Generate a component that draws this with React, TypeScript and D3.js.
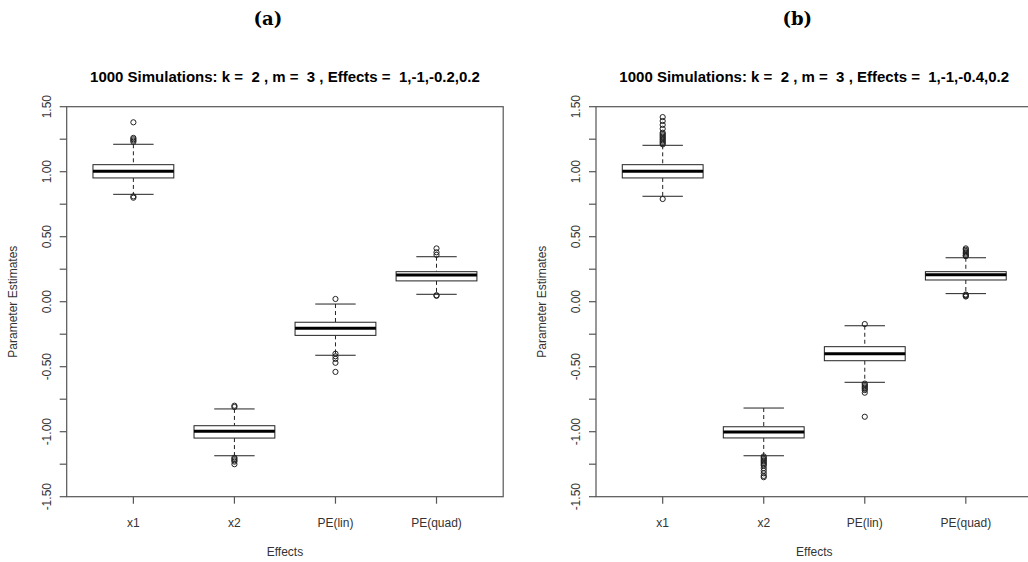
import React from "react";
import * as d3 from "d3";

const categories = ["x1", "x2", "PE(lin)", "PE(quad)"];
const yTicks = [-1.5, -1.25, -1, -0.75, -0.5, -0.25, 0, 0.25, 0.5, 0.75, 1, 1.25, 1.5];
const yTickLabels = [-1.5, -1, -0.5, 0, 0.5, 1, 1.5];

// Panel (a)
const titleA = "1000 Simulations: k =  2 , m =  3 , Effects =  1,-1,-0.2,0.2";
const medianA = [1.003, -0.997, -0.205, 0.205];
const q1A = [0.952, -1.049, -0.259, 0.16];
const q3A = [1.054, -0.954, -0.158, 0.231];
const lowA = [0.826, -1.185, -0.412, 0.057];
const highA = [1.211, -0.825, -0.018, 0.346];
const outliersA = [
  [1.38, 1.26, 1.25, 1.24, 1.23, 0.81, 0.8],
  [-0.8, -0.81, -1.2, -1.21, -1.22, -1.23, -1.25],
  [0.021, -0.4, -0.42, -0.44, -0.47, -0.54],
  [0.41, 0.38, 0.36, 0.05, 0.045],
];

// Panel (b)
const titleB = "1000 Simulations: k =  2 , m =  3 , Effects =  1,-1,-0.4,0.2";
const medianB = [1.003, -1.002, -0.4, 0.208];
const q1B = [0.952, -1.048, -0.454, 0.167];
const q3B = [1.054, -0.962, -0.346, 0.231];
const lowB = [0.811, -1.185, -0.62, 0.062];
const highB = [1.203, -0.818, -0.185, 0.338];
const outliersB = [
  [1.42, 1.39, 1.36, 1.33, 1.3, 1.29, 1.28, 1.27, 1.26, 1.25, 1.24, 1.23, 1.22, 1.21, 0.79],
  [-1.19, -1.2, -1.21, -1.22, -1.23, -1.24, -1.25, -1.26, -1.28, -1.3, -1.32, -1.34, -1.35],
  [-0.172, -0.63, -0.64, -0.65, -0.66, -0.67, -0.68, -0.7, -0.885],
  [0.41, 0.4, 0.39, 0.38, 0.37, 0.36, 0.355, 0.35, 0.055, 0.05, 0.045, 0.04],
];

const FONT = "Liberation Sans, Arial, sans-serif";

type PanelProps = {
  offsetX: number;
  letter: string;
  title: string;
  median: number[];
  q1: number[];
  q3: number[];
  low: number[];
  high: number[];
  outliers: number[][];
};

function Panel({ offsetX, letter, title, median, q1, q3, low, high, outliers }: PanelProps) {
  const left = 66.7 + offsetX;
  const right = 503.2 + offsetX;
  const top = 106.7;
  const bottom = 496.7;
  const x = d3.scaleLinear().domain([0.34, 4.66]).range([left, right]);
  const y = d3.scaleLinear().domain([-1.5, 1.5]).range([bottom, top]);
  const bw = x(0.4) - x(0);
  const sw = x(0.2) - x(0);
  const cx = (left + right) / 2;
  const axisColor = "#555";
  return (
    <g>
      <text x={cx - 17} y={25} textAnchor="middle" fontFamily="DejaVu Serif, serif" fontWeight="bold" fontSize={18}>
        {letter}
      </text>
      <text x={cx} y={82} textAnchor="middle" fontFamily={FONT} fontWeight="bold" fontSize={15} style={{ whiteSpace: "pre" }}>
        {title}
      </text>
      {categories.map((c, i) => {
        const xc = x(i + 1);
        return (
          <g key={c}>
            <line x1={xc} x2={xc} y1={y(high[i])} y2={y(q3[i])} stroke="#222" strokeDasharray="4,3" />
            <line x1={xc} x2={xc} y1={y(q1[i])} y2={y(low[i])} stroke="#222" strokeDasharray="4,3" />
            <line x1={xc - sw} x2={xc + sw} y1={y(high[i])} y2={y(high[i])} stroke="#222" />
            <line x1={xc - sw} x2={xc + sw} y1={y(low[i])} y2={y(low[i])} stroke="#222" />
            <rect x={xc - bw} y={y(q3[i])} width={2 * bw} height={y(q1[i]) - y(q3[i])} fill="white" stroke="#222" />
            <line x1={xc - bw} x2={xc + bw} y1={y(median[i])} y2={y(median[i])} stroke="black" strokeWidth={3} />
            {outliers[i].map((v, j) => (
              <circle key={j} cx={xc} cy={y(v)} r={2.6} fill="none" stroke="#222" strokeWidth={1} />
            ))}
          </g>
        );
      })}
      <rect x={left} y={top} width={right - left} height={bottom - top} fill="none" stroke={axisColor} strokeWidth={1.2} />
      {yTicks.map((t) => (
        <line key={t} x1={left - 7} x2={left} y1={y(t)} y2={y(t)} stroke={axisColor} strokeWidth={1.2} />
      ))}
      {yTickLabels.map((t) => (
        <text
          key={t}
          transform={`translate(${left - 16},${y(t)}) rotate(-90)`}
          textAnchor="middle"
          fontFamily={FONT}
          fontSize={12}
          fill="#333"
        >
          {d3.format(".2f")(t).replace("−", "-")}
        </text>
      ))}
      {categories.map((c, i) => (
        <g key={c}>
          <line x1={x(i + 1)} x2={x(i + 1)} y1={bottom} y2={bottom + 7} stroke={axisColor} strokeWidth={1.2} />
          <text x={x(i + 1)} y={527} textAnchor="middle" fontFamily={FONT} fontSize={12} fill="#333">
            {c}
          </text>
        </g>
      ))}
      <text x={cx} y={556} textAnchor="middle" fontFamily={FONT} fontSize={12} fill="#333">
        Effects
      </text>
      <text
        transform={`translate(${left - 50},${(top + bottom) / 2}) rotate(-90)`}
        textAnchor="middle"
        fontFamily={FONT}
        fontSize={12}
        fill="#333"
      >
        Parameter Estimates
      </text>
    </g>
  );
}

export default function App() {
  return (
    <svg
      width={1028}
      height={562}
      style={{ position: "absolute", left: 0, top: 0, background: "white" }}
    >
      <rect x={0} y={0} width={1028} height={562} fill="white" />
      <Panel offsetX={0} letter="(a)" title={titleA} median={medianA} q1={q1A} q3={q3A} low={lowA} high={highA} outliers={outliersA} />
      <Panel offsetX={529.3} letter="(b)" title={titleB} median={medianB} q1={q1B} q3={q3B} low={lowB} high={highB} outliers={outliersB} />
    </svg>
  );
}
